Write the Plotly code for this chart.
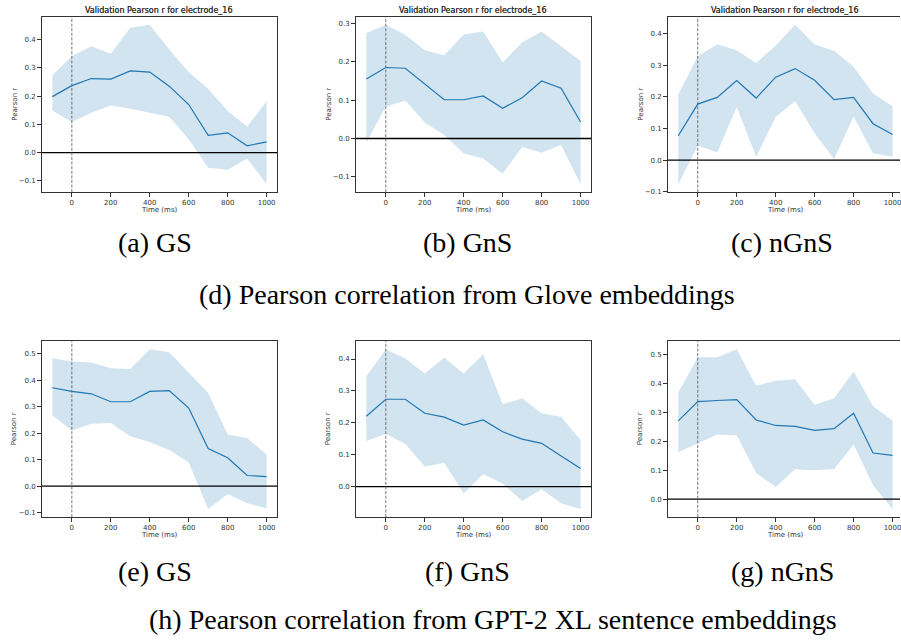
import plotly.graph_objects as go

W, H = 901, 640

times = [-100, 0, 100, 200, 300, 400, 500, 600, 700, 800, 900, 1000]

# (a) GS - Glove
a_mean = [0.198, 0.237, 0.262, 0.260, 0.289, 0.285, 0.235, 0.170, 0.061, 0.070, 0.024, 0.038]
a_up   = [0.274, 0.341, 0.376, 0.350, 0.442, 0.452, 0.365, 0.285, 0.226, 0.147, 0.092, 0.182]
a_lo   = [0.149, 0.108, 0.141, 0.167, 0.155, 0.141, 0.127, 0.047, -0.054, -0.061, -0.021, -0.112]

# (b) GnS - Glove
b_mean = [0.155, 0.185, 0.183, 0.143, 0.101, 0.101, 0.111, 0.079, 0.106, 0.150, 0.131, 0.043]
b_up   = [0.275, 0.296, 0.270, 0.230, 0.217, 0.271, 0.279, 0.198, 0.250, 0.279, 0.240, 0.202]
b_lo   = [-0.010, 0.083, 0.099, 0.042, 0.009, -0.039, -0.052, -0.092, -0.022, -0.037, -0.017, -0.119]

# (c) nGnS - Glove
c_mean = [0.077, 0.177, 0.198, 0.251, 0.196, 0.262, 0.289, 0.252, 0.191, 0.198, 0.115, 0.081]
c_up   = [0.207, 0.328, 0.366, 0.347, 0.307, 0.362, 0.427, 0.365, 0.345, 0.295, 0.210, 0.170]
c_lo   = [-0.076, 0.046, 0.024, 0.168, 0.011, 0.136, 0.187, 0.085, 0.003, 0.138, 0.022, 0.011]

# (e) GS - GPT-2 XL
e_mean = [0.372, 0.358, 0.349, 0.319, 0.319, 0.358, 0.361, 0.295, 0.142, 0.107, 0.040, 0.036]
e_up   = [0.484, 0.471, 0.467, 0.446, 0.443, 0.518, 0.506, 0.430, 0.352, 0.195, 0.182, 0.119]
e_lo   = [0.268, 0.210, 0.236, 0.239, 0.188, 0.167, 0.136, 0.089, -0.087, -0.030, -0.065, -0.084]

# (f) GnS - GPT-2 XL
f_mean = [0.221, 0.274, 0.274, 0.230, 0.218, 0.193, 0.209, 0.172, 0.149, 0.136, 0.096, 0.057]
f_up   = [0.345, 0.431, 0.402, 0.355, 0.405, 0.355, 0.415, 0.258, 0.277, 0.230, 0.219, 0.146]
f_lo   = [0.143, 0.165, 0.134, 0.063, 0.075, -0.021, 0.040, 0.010, -0.045, -0.008, -0.052, -0.070]

# (g) nGnS - GPT-2 XL
g_mean = [0.270, 0.336, 0.340, 0.343, 0.273, 0.254, 0.251, 0.237, 0.243, 0.296, 0.159, 0.151]
g_up   = [0.368, 0.489, 0.489, 0.517, 0.391, 0.408, 0.413, 0.325, 0.348, 0.440, 0.320, 0.271]
g_lo   = [0.162, 0.193, 0.223, 0.220, 0.090, 0.042, 0.103, 0.100, 0.104, 0.188, 0.048, -0.034]

x_ticks = [0, 200, 400, 600, 800, 1000]
plot_title = "Validation Pearson r for electrode_16"
y_label = "Pearson r"
x_label = "Time (ms)"
sub_captions = ["(a) GS", "(b) GnS", "(c) nGnS", "(e) GS", "(f) GnS", "(g) nGnS"]
row_captions = ["(d) Pearson correlation from Glove embeddings",
                "(h) Pearson correlation from GPT-2 XL sentence embeddings"]

panels = [
    (a_mean, a_up, a_lo),
    (b_mean, b_up, b_lo),
    (c_mean, c_up, c_lo),
    (e_mean, e_up, e_lo),
    (f_mean, f_up, f_lo),
    (g_mean, g_up, g_lo),
]

# pixel geometry of axes boxes (left, right, top, bottom)
col_px = [(41.7, 277.4), (356.0, 591.7), (668.3, 904.0)]
row_px = [(17.0, 193.4), (343.3, 520.3)]
x_per_px = 1000.0 / 195.0  # data units per pixel on x

fig = go.Figure()
C0 = "#1f77b4"
annotations = []
shapes = []
caption_x = [155, 468, 783]
caption_y = [244, 575]
row_caption_y = [296, 623]
row_caption_x = [468, 494]
CAP_FONT = dict(family="Liberation Serif", size=28, color="black")

for i, (m, up, lo) in enumerate(panels):
    r, c = divmod(i, 3)
    n = i + 1
    xa = "x" if n == 1 else f"x{n}"
    ya = "y" if n == 1 else f"y{n}"
    xl = "xaxis" if n == 1 else f"xaxis{n}"
    yl = "yaxis" if n == 1 else f"yaxis{n}"
    left, right = col_px[c]
    top, bot = row_px[r]
    right_vis = min(right, W)

    fig.add_trace(go.Scatter(x=times, y=lo, mode="lines", line=dict(width=0),
                             hoverinfo="skip", showlegend=False, xaxis=xa, yaxis=ya))
    fig.add_trace(go.Scatter(x=times, y=up, mode="lines", line=dict(width=0),
                             fill="tonexty", fillcolor="rgba(31,119,180,0.2)",
                             hoverinfo="skip", showlegend=False, xaxis=xa, yaxis=ya))
    fig.add_trace(go.Scatter(x=times, y=m, mode="lines", line=dict(color=C0, width=1.2),
                             showlegend=False, xaxis=xa, yaxis=ya))

    ymin = min(lo + m)
    ymax = max(up + m)
    span = ymax - ymin
    yr = [ymin - 0.05 * span, ymax + 0.05 * span]
    x0 = times[0] - 0.05 * (times[-1] - times[0])
    # x range clipped at the visible image edge
    x1 = x0 + (right_vis - left) * x_per_px

    fig.layout[xl] = dict(domain=[left / W, right_vis / W], range=[x0, x1],
                          anchor=ya, tickvals=x_ticks, ticks="outside", ticklen=3.5,
                          tickwidth=0.8, tickcolor="#333", showline=True, linecolor="#333",
                          linewidth=1, mirror=True, showgrid=False, zeroline=False,
                          ticklabeloverflow="allow",
                          tickfont=dict(family="DejaVu Sans", size=7, color="#333"))
    fig.layout[yl] = dict(domain=[1 - bot / H, 1 - top / H], range=yr, anchor=xa,
                          dtick=0.1, tick0=0, tickformat=".1f", ticks="outside", ticklen=3.5,
                          tickwidth=0.8, tickcolor="#333", showline=True, linecolor="#333",
                          linewidth=1, mirror=(right <= W), showgrid=False, zeroline=False,
                          tickfont=dict(family="DejaVu Sans", size=7, color="#333"))

    # horizontal line at 0 and vertical dashed line at 0
    shapes.append(dict(type="line", xref=f"{xa} domain", yref=ya, x0=0, x1=1, y0=0, y1=0,
                       line=dict(color="black", width=1.3)))
    shapes.append(dict(type="line", xref=xa, yref=f"{ya} domain", x0=0, x1=0, y0=0, y1=1,
                       line=dict(color="#666", width=0.9, dash="3px,1.6px")))

    cx = (left + right) / 2
    annotations.append(dict(text=plot_title, x=cx / W, y=1 - 11 / H, xref="paper", yref="paper",
                            showarrow=False, xanchor="center", yanchor="middle",
                            font=dict(family="DejaVu Sans", size=8, color="#333")))
    annotations.append(dict(text=x_label, x=cx / W, y=1 - (bot + 18) / H, xref="paper",
                            yref="paper", showarrow=False, xanchor="center", yanchor="middle",
                            font=dict(family="DejaVu Sans", size=7, color="#333")))
    annotations.append(dict(text=y_label, x=(left - 27.5) / W, y=1 - (top + bot) / 2 / H,
                            xref="paper", yref="paper", showarrow=False, textangle=-90,
                            xanchor="center", yanchor="middle",
                            font=dict(family="DejaVu Sans", size=7, color="#333")))
    annotations.append(dict(text=sub_captions[i], x=caption_x[c] / W, y=1 - caption_y[r] / H,
                            xref="paper", yref="paper", showarrow=False, xanchor="center",
                            yanchor="middle", font=CAP_FONT))

for r in range(2):
    annotations.append(dict(text=row_captions[r], x=row_caption_x[r] / W,
                            y=1 - row_caption_y[r] / H, xref="paper", yref="paper",
                            showarrow=False, xanchor="center", yanchor="middle",
                            font=CAP_FONT))

fig.update_layout(width=W, height=H, margin=dict(l=0, r=0, t=0, b=0),
                  paper_bgcolor="white", plot_bgcolor="white",
                  annotations=annotations, shapes=shapes, showlegend=False)

fig.write_html("out.html")
